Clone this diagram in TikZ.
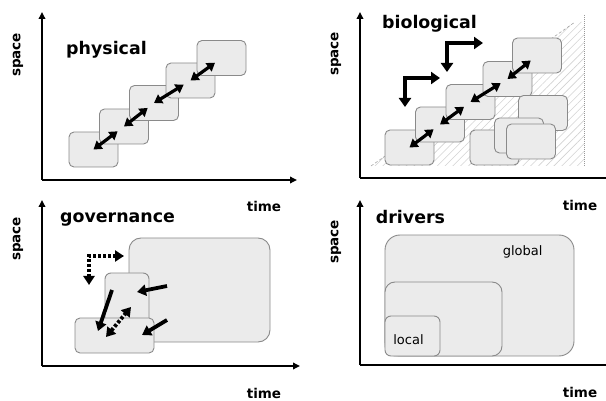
\documentclass[tikz,border=0pt]{standalone}
\usepackage{fontspec}
\setmainfont{DejaVu Sans}
\usetikzlibrary{arrows.meta,patterns.meta}
\definecolor{boxfill}{HTML}{EBEBEB}
\definecolor{boxline}{HTML}{8A8A8A}
\begin{document}
\begin{tikzpicture}[x=1pt,y=-1pt,
  box/.style={draw=boxline, fill=boxfill, line width=0.9pt, rounded corners=5pt,
    inner sep=0pt, outer sep=0pt, minimum width=49pt, minimum height=35pt},
  axis/.style={line width=1.8pt, -{Triangle[width=6.5pt,length=7pt]}},
  dbl/.style={line width=3.2pt, {Triangle[width=10pt,length=8pt]}-{Triangle[width=10pt,length=8pt]}},
  bent/.style={line width=4pt, {Triangle[width=12pt,length=9pt]}-{Triangle[width=12pt,length=9pt]}},
  solidarr/.style={line width=3.8pt, -{Triangle[width=11pt,length=9pt]}},
  dotarr/.style={line width=3.8pt, dash pattern=on 3pt off 2pt},
  title/.style={font=\bfseries\fontsize{17.4}{20}\selectfont, inner sep=0pt},
  axlabel/.style={font=\bfseries\fontsize{13.5}{16}\selectfont, inner sep=0pt},
  small/.style={font=\fontsize{13}{15}\selectfont, inner sep=0pt}
]
\useasboundingbox (0,0) rectangle (606,401);

% ---------- panel 1: physical ----------
\coordinate (o1) at (42,180);
\coordinate (y1) at (42,12);
\coordinate (x1) at (297,180);
\draw[axis] (o1) -- (y1);
\draw[axis] (o1) -- (x1);
\node[axlabel, rotate=90] (s1) at (18,55) {space};
\node[axlabel] (t1) at (264,206) {time};
\node[title] (n1) at (106.5,50) {physical};
\node[box] (p1) at (93.5,149.5) {};
\node[box] (p2) at (124,126.5) {};
\node[box] (p3) at (154,103) {};
\node[box] (p4) at (190.5,80.5) {};
\node[box] (p5) at (221.5,58) {};
\foreach \a/\b in {p1/p2,p2/p3,p3/p4,p4/p5}
  \draw[dbl, shorten >=8pt] (\a.center) -- (\b.center);

% ---------- panel 2: biological ----------
\coordinate (o2) at (360,178);
\coordinate (y2) at (360,12);
\coordinate (x2) at (614,178);
\coordinate (h1) at (371,166);
\coordinate (h2) at (575,22);
\coordinate (h3) at (584,22);
\coordinate (h4) at (584,166);
\fill[pattern={Lines[angle=45,distance=5.5pt,line width=0.6pt]}, pattern color=gray!35]
  (h1) -- (h2) -- (h3) -- (h4) -- cycle;
\draw[gray!70, line width=0.6pt, dash pattern=on 3pt off 2pt] (h1) -- (h2);
\draw[gray!80, line width=0.9pt, dash pattern=on 0.8pt off 1.2pt] (584,15) -- (h4);
\draw[axis] (o2) -- (y2);
\draw[axis] (o2) -- (x2);
\node[axlabel, rotate=90] (s2) at (336,54) {space};
\node[axlabel] (t2) at (580,205) {time};
\node[title] (n2) at (429.5,24) {biological};
\node[box] (b1) at (409.5,147.5) {};
\node[box] (b2) at (440,124.5) {};
\node[box] (b3) at (470.5,102) {};
\node[box] (b4) at (507.5,79) {};
\node[box] (b5) at (537,55.5) {};
\node[box] (c2) at (543,113) {};
\node[box] (c1) at (494.5,147.5) {};
\node[box] (c3) at (519,135.5) {};
\node[box] (c4) at (531,141.5) {};
\foreach \a/\b in {b1/b2,b2/b3,b3/b4,b4/b5}
  \draw[dbl, shorten >=8pt] (\a.center) -- (\b.center);
\coordinate (l1a) at (405,107);
\coordinate (l1b) at (440,78);
\coordinate (l2a) at (447,72);
\coordinate (l2b) at (483,43);
\draw[bent] (l1a) |- (l1b);
\draw[bent] (l2a) |- (l2b);

% ---------- panel 3: governance ----------
\coordinate (o3) at (42,366);
\coordinate (y3) at (42,200);
\coordinate (x3) at (300,366);
\draw[axis] (o3) -- (y3);
\draw[axis] (o3) -- (x3);
\node[axlabel, rotate=90] (s3) at (18,239) {space};
\node[axlabel] (t3) at (264,393) {time};
\node[title] (n3) at (117.5,220) {governance};
\node[box, rounded corners=12pt, minimum width=141pt, minimum height=104pt] (gbig) at (199.5,290) {};
\node[box, rounded corners=6pt, minimum width=44pt, minimum height=54pt] (gmid) at (127,300) {};
\node[box, minimum width=79pt, minimum height=35pt] (glow) at (114.5,335.5) {};
\coordinate (d1a) at (89,285);
\coordinate (d1b) at (124,256);
\draw[dotarr, {Triangle[width=11pt,length=9pt]}-{Triangle[width=11pt,length=9pt]}] (d1a) |- (d1b);
\coordinate (aa1) at (167,286);
\coordinate (aa2) at (137,292);
\coordinate (ab1) at (167,320);
\coordinate (ab2) at (142,335);
\coordinate (ac1) at (112,290);
\coordinate (ac2) at (98,331);
\coordinate (ad1) at (106,337);
\coordinate (ad2) at (131,307);
\draw[solidarr] (aa1) -- (aa2);
\draw[solidarr] (ab1) -- (ab2);
\draw[solidarr] (ac1) -- (ac2);
\draw[dotarr, {Triangle[width=11pt,length=9pt]}-{Triangle[width=11pt,length=9pt]}] (ad1) -- (ad2);

% ---------- panel 4: drivers ----------
\coordinate (o4) at (360,365);
\coordinate (y4) at (360,200);
\coordinate (x4) at (614,365);
\draw[axis] (o4) -- (y4);
\draw[axis] (o4) -- (x4);
\node[axlabel, rotate=90] (s4) at (336,242) {space};
\node[axlabel] (t4) at (580,392) {time};
\node[title] (n4) at (410.5,217) {drivers};
\node[box, rounded corners=15pt, minimum width=189pt, minimum height=121pt] (dglob) at (479.5,295.5) {};
\node[box, rounded corners=10pt, minimum width=117pt, minimum height=74pt] (dmid) at (443.5,319) {};
\node[box, rounded corners=6pt, minimum width=55pt, minimum height=40pt] (dloc) at (412.5,336) {};
\node[small] (lg) at (522.7,252) {global};
\node[small] (ll) at (408.5,340) {local};
\end{tikzpicture}
\end{document}
